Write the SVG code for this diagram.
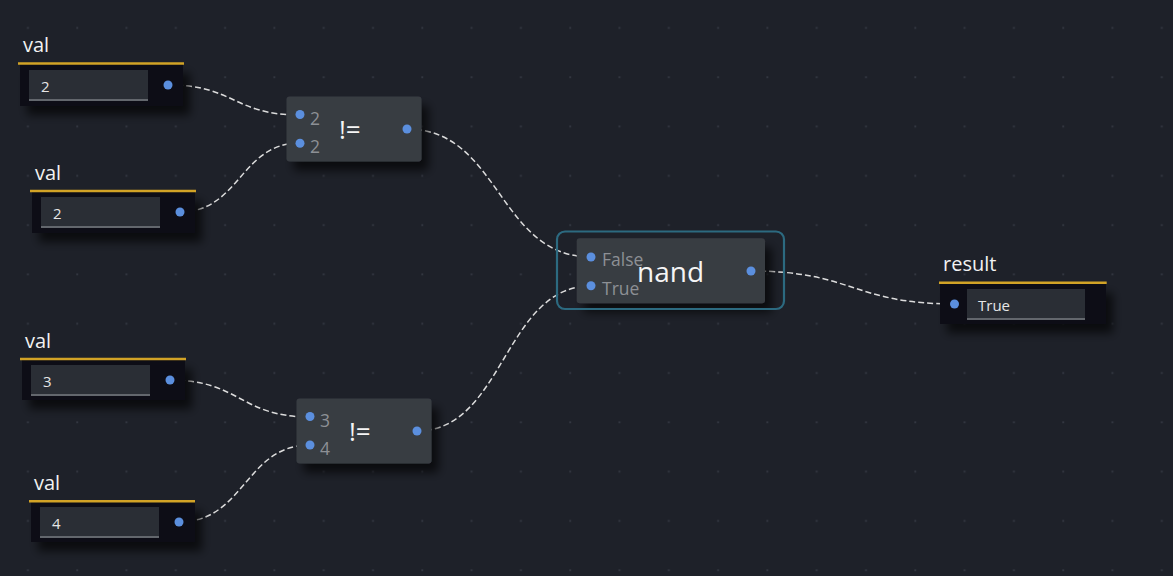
<svg xmlns="http://www.w3.org/2000/svg" width="1173" height="576" viewBox="0 0 1173 576">
<defs>
<pattern id="grid" x="3" y="3" width="49.3" height="49.3" patternUnits="userSpaceOnUse">
<rect x="24" y="24" width="1.8" height="1.8" fill="#343842"/>
</pattern>
<filter id="sh" x="-20%" y="-30%" width="150%" height="180%">
<feDropShadow dx="7" dy="9" stdDeviation="5" flood-color="#000" flood-opacity="0.65"/>
</filter>
<style>
.title{font-family:"Open Sans","Noto Sans","Liberation Sans",sans-serif;font-size:20px;fill:#f2f2f2}
.gold{stroke:#d2a326;stroke-width:2.5}
.body{fill:#0e1116}
.field{fill:#2a2e35}
.fline{stroke:#63676d;stroke-width:1.8}
.val{font-family:"Open Sans","Noto Sans","Liberation Sans",sans-serif;font-size:15px;fill:#e6e6e6}
.port{fill:#5b8fde}
.op{fill:#393c43}
.plabel{font-family:"Open Sans","Noto Sans","Liberation Sans",sans-serif;font-size:17.5px;fill:#8d9095}
.opname{font-family:"Open Sans","Noto Sans","Liberation Sans",sans-serif;font-size:26px;fill:#f5f5f5}
.wire{fill:none;stroke:#dcdcdc;stroke-width:1.5;stroke-dasharray:6 3}
</style>
</defs>
<rect width="1173" height="576" fill="#1e2129"/>
<rect width="1173" height="576" fill="url(#grid)"/>

<g id="connectors">
<path class="wire" d="M168,85 C235,85 233,115 300,115"/>
<path class="wire" d="M180,212 C240,212 240,143 300,143"/>
<path class="wire" d="M407,129 C500,129 498,257 591,257"/>
<path class="wire" d="M417,431 C504,431 504,286 591,286"/>
<path class="wire" d="M170,380 C240,380 240,417 310,417"/>
<path class="wire" d="M179,522 C245,522 245,445 310,445"/>
<path class="wire" d="M751,271 C853,271 853,304 955,304"/>
</g>

<g id="val1">
<text class="title" x="23" y="52">val</text>
<rect class="body" x="20" y="64" width="163" height="42" filter="url(#sh)"/>
<line class="gold" x1="18" y1="63.5" x2="184" y2="63.5"/>
<rect class="field" x="29" y="70" width="119" height="30"/>
<line class="fline" x1="29" y1="100" x2="148" y2="100"/>
<text class="val" x="41" y="92">2</text>
<circle class="port" cx="168" cy="85" r="4.5"/>
</g>

<g id="val2">
<text class="title" x="35" y="180">val</text>
<rect class="body" x="32" y="192" width="163" height="41" filter="url(#sh)"/>
<line class="gold" x1="30" y1="191" x2="196" y2="191"/>
<rect class="field" x="41" y="197" width="119" height="30"/>
<line class="fline" x1="41" y1="227" x2="160" y2="227"/>
<text class="val" x="53" y="219">2</text>
<circle class="port" cx="180" cy="212" r="4.5"/>
</g>

<g id="val3">
<text class="title" x="25" y="348">val</text>
<rect class="body" x="22" y="360" width="163" height="40" filter="url(#sh)"/>
<line class="gold" x1="20" y1="359" x2="186" y2="359"/>
<rect class="field" x="31" y="365" width="119" height="30"/>
<line class="fline" x1="31" y1="395" x2="150" y2="395"/>
<text class="val" x="43" y="387">3</text>
<circle class="port" cx="170" cy="380" r="4.5"/>
</g>

<g id="val4">
<text class="title" x="34" y="490">val</text>
<rect class="body" x="31" y="502" width="164" height="40" filter="url(#sh)"/>
<line class="gold" x1="29" y1="501.3" x2="195" y2="501.3"/>
<rect class="field" x="40" y="507" width="119" height="30"/>
<line class="fline" x1="40" y1="537" x2="159" y2="537"/>
<text class="val" x="52" y="529">4</text>
<circle class="port" cx="179" cy="522" r="4.5"/>
</g>

<g id="neq1">
<rect class="op" x="286.5" y="96.5" width="135" height="65" rx="3" filter="url(#sh)"/>
<circle class="port" cx="300" cy="114.5" r="4.5"/>
<circle class="port" cx="300" cy="143.3" r="4.5"/>
<text class="plabel" x="310" y="124.5">2</text>
<text class="plabel" x="310" y="153">2</text>
<text class="opname" x="339" y="139">!=</text>
<circle class="port" cx="407" cy="129" r="4.5"/>
</g>

<g id="neq2">
<rect class="op" x="296.5" y="398.5" width="135" height="65" rx="3" filter="url(#sh)"/>
<circle class="port" cx="310" cy="416.5" r="4.5"/>
<circle class="port" cx="310" cy="445" r="4.5"/>
<text class="plabel" x="320" y="426.5">3</text>
<text class="plabel" x="320" y="455">4</text>
<text class="opname" x="349" y="441">!=</text>
<circle class="port" cx="417" cy="431" r="4.5"/>
</g>

<g id="nand">
<rect class="op" x="576.7" y="238.3" width="188.3" height="65" rx="3" filter="url(#sh)"/>
<rect x="557" y="231.5" width="227" height="77.5" rx="8" fill="none" stroke="#2c6a80" stroke-width="2.2"/>
<circle class="port" cx="591" cy="257" r="4.5"/>
<circle class="port" cx="591" cy="285.7" r="4.5"/>
<text class="plabel" x="602" y="266">False</text>
<text class="plabel" x="602" y="294.5">True</text>
<text class="opname" x="637" y="282" style="font-size:28px">nand</text>
<circle class="port" cx="751" cy="271" r="4.5"/>
</g>

<g id="result">
<text class="title" x="943" y="271">result</text>
<rect class="body" x="940" y="284" width="166" height="40" filter="url(#sh)"/>
<line class="gold" x1="939" y1="282.7" x2="1106.7" y2="282.7"/>
<rect class="field" x="967" y="289" width="118" height="30"/>
<line class="fline" x1="967" y1="319" x2="1085" y2="319"/>
<text class="val" x="978" y="311">True</text>
<circle class="port" cx="954.5" cy="304" r="4.5"/>
</g>
</svg>
